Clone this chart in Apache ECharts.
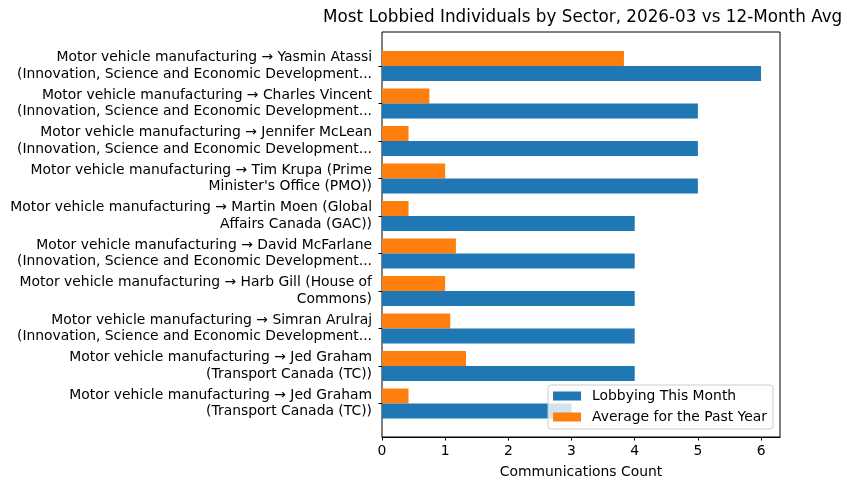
<!DOCTYPE html>
<html>
<head>
<meta charset="utf-8">
<script src="https://cdn.jsdelivr.net/npm/echarts@6/dist/echarts.min.js"></script>
<style>
html, body { margin: 0; padding: 0; background: #fff; }
#main { width: 847px; height: 490px; }
</style>
</head>
<body>
<div id="main"></div>
<script>
var categories = [
    'Motor vehicle manufacturing \u2192 Yasmin Atassi\n(Innovation, Science and Economic Development...',
    'Motor vehicle manufacturing \u2192 Charles Vincent\n(Innovation, Science and Economic Development...',
    'Motor vehicle manufacturing \u2192 Jennifer McLean\n(Innovation, Science and Economic Development...',
    'Motor vehicle manufacturing \u2192 Tim Krupa (Prime\nMinister\'s Office (PMO))',
    'Motor vehicle manufacturing \u2192 Martin Moen (Global\nAffairs Canada (GAC))',
    'Motor vehicle manufacturing \u2192 David McFarlane\n(Innovation, Science and Economic Development...',
    'Motor vehicle manufacturing \u2192 Harb Gill (House of\nCommons)',
    'Motor vehicle manufacturing \u2192 Simran Arulraj\n(Innovation, Science and Economic Development...',
    'Motor vehicle manufacturing \u2192 Jed Graham\n(Transport Canada (TC))',
    'Motor vehicle manufacturing \u2192 Jed Graham\n(Transport Canada (TC))'
];
var thisMonth = [6, 5, 5, 5, 4, 4, 4, 4, 4, 3];
var pastYearAvg = [3.83, 0.75, 0.42, 1.0, 0.42, 1.17, 1.0, 1.08, 1.33, 0.42];
var xTicks = [0, 1, 2, 3, 4, 5, 6];

var font = 'DejaVu Sans';
var myChart = echarts.init(document.getElementById('main'));

var catIds = categories.map(function(c, i){ return String(i); });

var option = {
    animation: false,
    textStyle: { fontFamily: font },
    title: {
        text: 'Most Lobbied Individuals by Sector, 2026-03 vs 12-Month Avg',
        left: 323,
        top: 9,
        padding: 0,
        textStyle: { fontFamily: font, fontSize: 16.8, fontWeight: 'normal', color: '#000' }
    },
    legend: {
        data: ['Lobbying This Month', 'Average for the Past Year'],
        orient: 'vertical',
        right: 74,
        top: 385,
        padding: [4, 6, 5, 5],
        itemWidth: 28,
        itemHeight: 9,
        itemGap: 7,
        icon: 'rect',
        backgroundColor: 'rgba(255,255,255,0.8)',
        borderColor: '#cccccc',
        borderWidth: 1,
        borderRadius: 3,
        textStyle: { fontFamily: font, fontSize: 13.9, color: '#000', padding: [0, 0, 0, 6] }
    },
    grid: [
        { left: 382, right: 67, top: 32, bottom: 53, show: true, borderColor: '#000', borderWidth: 1, backgroundColor: 'transparent' },
        { left: 382, right: 67, top: 47.25, bottom: 67.75 }
    ],
    xAxis: [
        {
            gridIndex: 0,
            type: 'value',
            min: 0,
            max: 6.3,
            interval: 1,
            name: 'Communications Count',
            nameLocation: 'middle',
            nameGap: 28,
            nameTextStyle: { fontFamily: font, fontSize: 13.9, color: '#000' },
            axisLine: { show: true, lineStyle: { color: '#000', width: 1 } },
            axisTick: { show: true, length: 3.5, customValues: xTicks, lineStyle: { color: '#000' } },
            axisLabel: { margin: 7, customValues: xTicks, fontFamily: font, fontSize: 13.9, color: '#000' },
            splitLine: { show: false }
        },
        {
            gridIndex: 1,
            type: 'value',
            min: 0,
            max: 6.3,
            show: false
        }
    ],
    yAxis: [
        { gridIndex: 0, type: 'value', show: false },
        {
            gridIndex: 1,
            type: 'category',
            inverse: true,
            data: catIds,
            axisLine: { show: false },
            axisTick: { show: true, alignWithLabel: true, length: 3.5, lineStyle: { color: '#000' } },
            axisLabel: {
                margin: 10,
                fontFamily: font,
                fontSize: 13.9,
                lineHeight: 16.5,
                color: '#000',
                align: 'right',
                formatter: function(v, i){ return categories[+v]; }
            },
            splitLine: { show: false }
        }
    ],
    series: [
        {
            name: 'Average for the Past Year',
            type: 'bar',
            xAxisIndex: 1,
            yAxisIndex: 1,
            data: pastYearAvg,
            barWidth: '40%',
            barGap: '0%',
            itemStyle: { color: '#ff7f0e' }
        },
        {
            name: 'Lobbying This Month',
            type: 'bar',
            xAxisIndex: 1,
            yAxisIndex: 1,
            data: thisMonth,
            barWidth: '40%',
            barGap: '0%',
            itemStyle: { color: '#1f77b4' }
        }
    ]
};

myChart.setOption(option);
</script>
</body>
</html>
